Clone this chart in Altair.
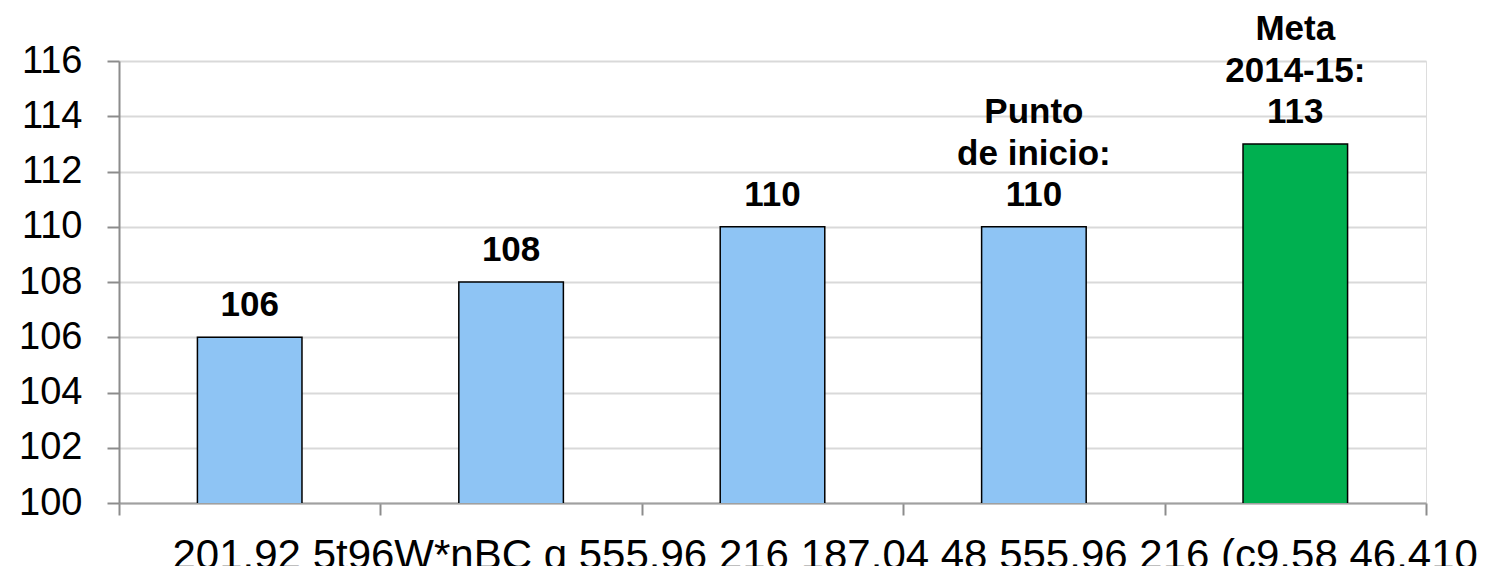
import altair as alt
import pandas as pd

categories = ["c1", "c2", "c3", "c4", "c5"]
values = [106, 108, 110, 110, 113]
value_labels = ["106", "108", "110", "110", "113"]
label_line1 = ["", "", "", "Punto", "Meta"]
label_line2 = ["", "", "", "de inicio:", "2014-15:"]
colors = ["#8EC4F4", "#8EC4F4", "#8EC4F4", "#8EC4F4", "#00B050"]
y_ticks = [100, 102, 104, 106, 108, 110, 112, 114, 116]
x_title = "201.92 5t96W*nBC q 555.96 216 187.04 48 555.96 216 (c9.58 46.410"

df = pd.DataFrame({
    "cat": categories,
    "value": values,
    "vlabel": value_labels,
    "l1": label_line1,
    "l2": label_line2,
    "color": colors,
})

FONT = "Liberation Sans"

x_enc = alt.X(
    "cat:N",
    sort=categories,
    scale=alt.Scale(paddingInner=0, paddingOuter=0),
    axis=alt.Axis(
        labels=False,
        tickBand="extent",
        tickSize=12,
        tickColor="#8c8c8c",
        tickWidth=2,
        domainColor="#a0a0a0",
        domainWidth=2,
        grid=False,
        title=x_title,
        titleFont=FONT,
        titleFontSize=42,
        titleFontWeight="normal",
        titleColor="#000000",
        titleAlign="left",
        titleBaseline="alphabetic",
        titleX=53,
        titleY=65,
    ),
)

y_enc = alt.Y(
    "value:Q",
    scale=alt.Scale(domain=[100, 116], nice=False, zero=False),
    axis=alt.Axis(
        values=y_ticks,
        title=None,
        labelFont=FONT,
        labelFontSize=38,
        labelColor="#000000",
        labelPadding=25,
        tickSize=12,
        tickColor="#8c8c8c",
        tickWidth=2,
        domainColor="#8c8c8c",
        domainWidth=2,
        gridColor="#d9d9d9",
        gridWidth=2,
    ),
)

bars = alt.Chart(df).mark_bar(
    width=alt.RelativeBandSize(0.4), stroke="#000000", strokeWidth=1.5, clip=True
).encode(
    x=x_enc,
    y=y_enc,
    color=alt.Color("color:N", scale=None),
)


def label_layer(field, dy):
    return alt.Chart(df).mark_text(
        font=FONT,
        fontSize=35,
        fontWeight="bold",
        baseline="bottom",
        dy=dy,
        color="#000000",
    ).encode(
        x=alt.X("cat:N", sort=categories),
        y="value:Q",
        text=f"{field}:N",
    )


chart = (
    alt.layer(
        bars,
        label_layer("vlabel", -14),
        label_layer("l2", -55),
        label_layer("l1", -97),
    )
    .properties(
        width=1307,
        height=442,
        autosize=alt.AutoSizeParams(type="none"),
        padding={"left": 111, "top": 53, "right": 52, "bottom": 63},
    )
    .configure_view(stroke=None)
    .configure(background="#ffffff")
)

chart.save("out.html", embed_options={"renderer": "svg", "actions": False})
